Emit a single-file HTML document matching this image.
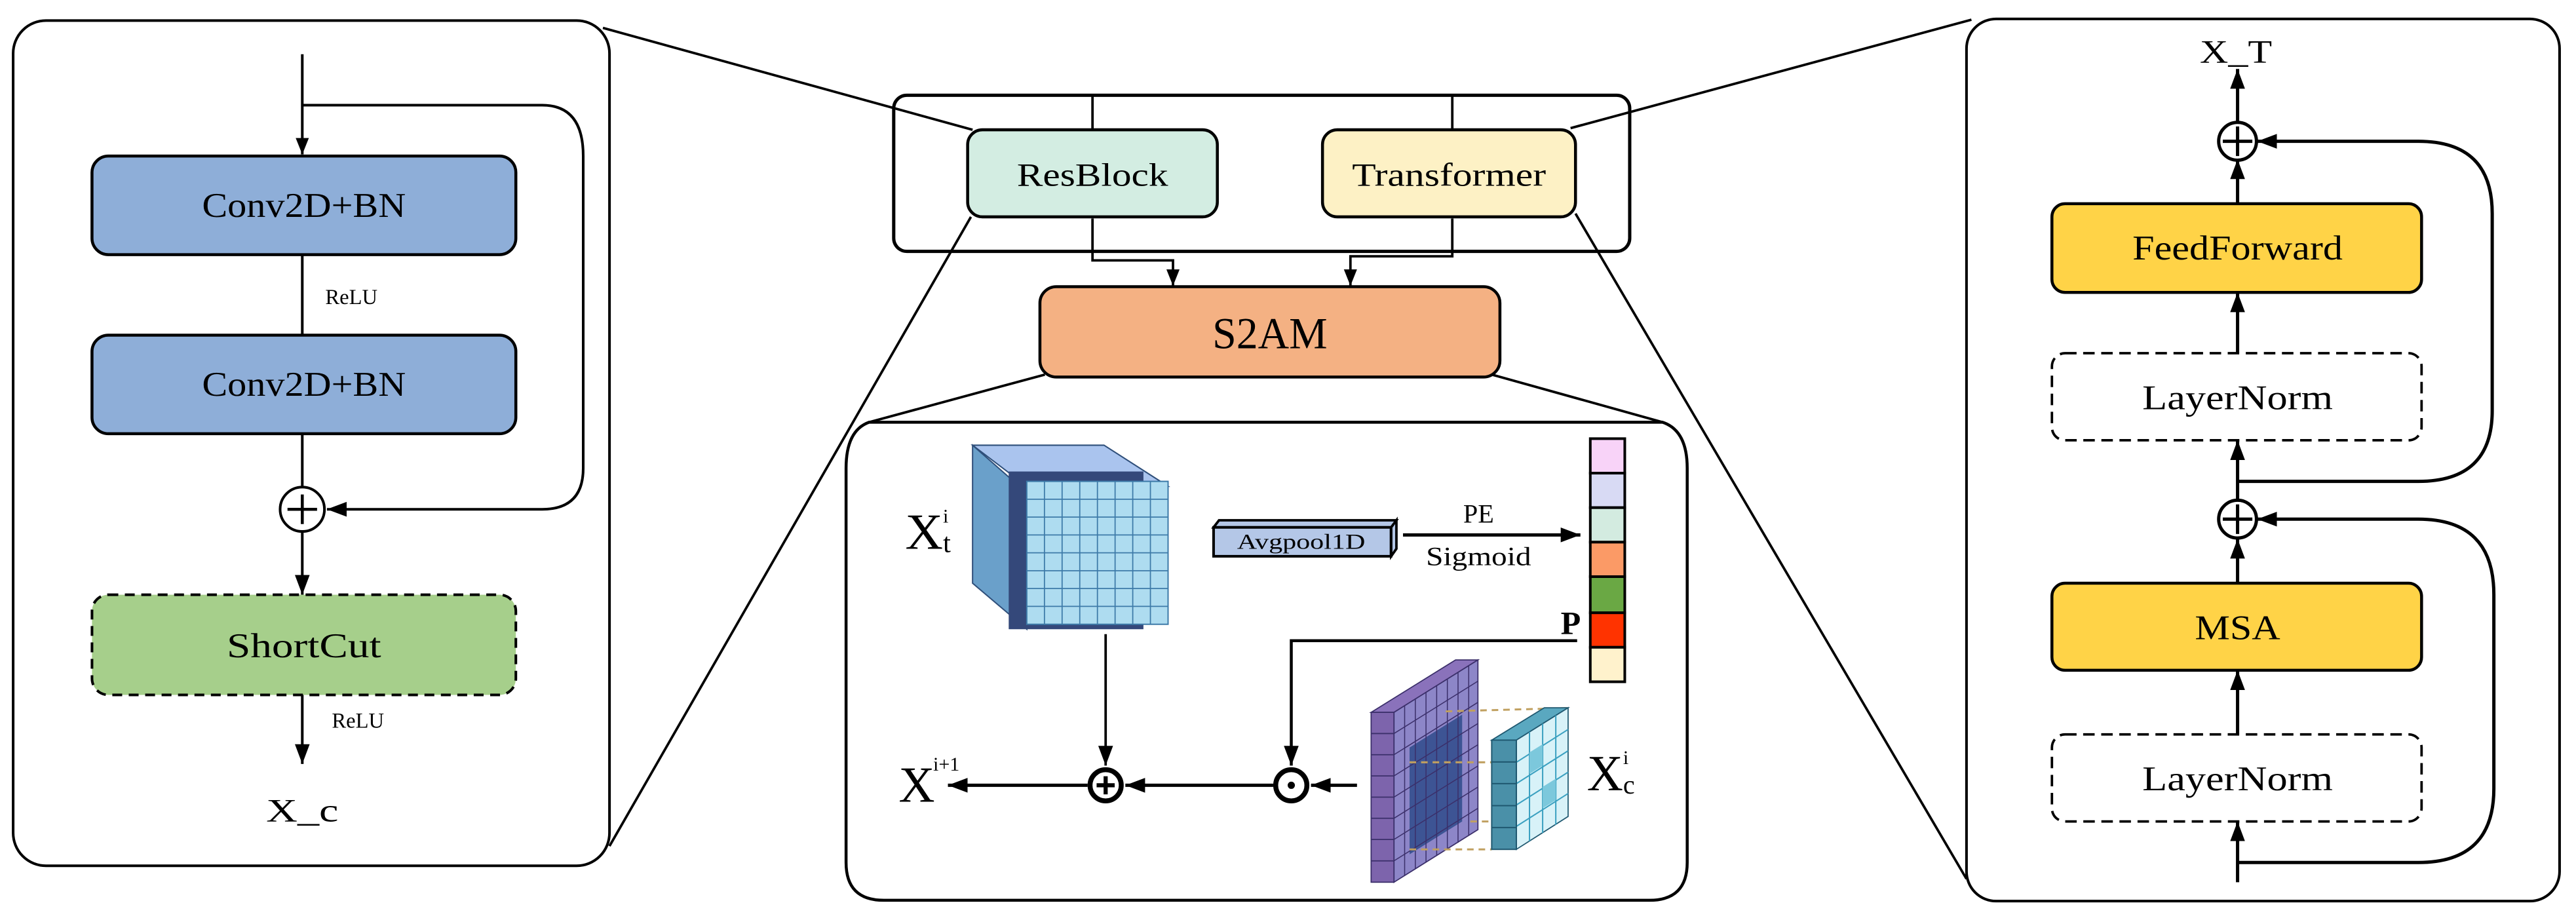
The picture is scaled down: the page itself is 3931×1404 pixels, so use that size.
<!DOCTYPE html>
<html><head><meta charset="utf-8"><style>
html,body{margin:0;padding:0;background:#fff;}
svg{display:block;}
text{font-family:"Liberation Serif",serif;fill:#000;}
</style></head><body>
<svg width="3931" height="1404" viewBox="0 0 1568 560" preserveAspectRatio="none" xmlns="http://www.w3.org/2000/svg">
<defs>
<marker id="ah" markerUnits="userSpaceOnUse" markerWidth="12" markerHeight="12" viewBox="0 0 12 12" refX="12" refY="6" orient="auto">
<path d="M0,1.5 L12,6 L0,10.5 Z" fill="#000"/></marker>
<marker id="ah2" markerUnits="userSpaceOnUse" markerWidth="10" markerHeight="10" viewBox="0 0 10 10" refX="10" refY="5" orient="auto">
<path d="M0,1 L10,5 L0,9 Z" fill="#000"/></marker>
</defs>

<!-- connectors between panels -->
<g stroke="#000" stroke-width="1.5" fill="none">
<line x1="367" y1="17" x2="592" y2="79"/>
<line x1="591" y1="132" x2="371" y2="515"/>
<line x1="956" y1="78" x2="1200" y2="12"/>
<line x1="959" y1="130" x2="1197" y2="535"/>
<line x1="636" y1="228" x2="529" y2="257"/>
<line x1="908" y1="228" x2="1012" y2="257"/>
</g>

<!-- LEFT PANEL -->
<rect x="8" y="12.5" width="363" height="514.5" rx="20" fill="none" stroke="#000" stroke-width="1.6"/>
<g stroke="#000" stroke-width="1.6" fill="none">
<line x1="184" y1="33" x2="184" y2="94" marker-end="url(#ah2)"/>
<path d="M184,64 L330,64 Q355,64 355,95 L355,285 Q355,310 330,310 L199,310" marker-end="url(#ah)"/>
<line x1="184" y1="155" x2="184" y2="204"/>
<line x1="184" y1="264" x2="184" y2="296"/>
<line x1="184" y1="324" x2="184" y2="362" marker-end="url(#ah)"/>
<line x1="184" y1="423" x2="184" y2="465" marker-end="url(#ah)"/>
</g>
<rect x="56" y="95" width="258" height="60" rx="10" fill="#8eaed8" stroke="#000" stroke-width="1.8"/>
<text x="185" y="132" font-size="21" text-anchor="middle" textLength="124" lengthAdjust="spacingAndGlyphs">Conv2D+BN</text>
<text x="198" y="185" font-size="13">ReLU</text>
<rect x="56" y="204" width="258" height="60" rx="10" fill="#8eaed8" stroke="#000" stroke-width="1.8"/>
<text x="185" y="241" font-size="21" text-anchor="middle" textLength="124" lengthAdjust="spacingAndGlyphs">Conv2D+BN</text>
<circle cx="184" cy="310" r="13.5" fill="#fff" stroke="#000" stroke-width="1.6"/>
<path d="M175,310 H193 M184,301 V319" stroke="#000" stroke-width="1.8"/>
<rect x="56" y="362" width="258" height="61" rx="10" fill="#a6cf8b" stroke="#000" stroke-width="1.6" stroke-dasharray="6,4"/>
<text x="185" y="400" font-size="21" text-anchor="middle" textLength="94" lengthAdjust="spacingAndGlyphs">ShortCut</text>
<text x="202" y="443" font-size="13">ReLU</text>
<text x="184" y="500" font-size="20" text-anchor="middle" textLength="44" lengthAdjust="spacingAndGlyphs">X_c</text>

<!-- MIDDLE TOP -->
<rect x="544" y="58" width="448" height="95" rx="8" fill="none" stroke="#000" stroke-width="2"/>
<g stroke="#000" stroke-width="1.5" fill="none">
<line x1="665" y1="58" x2="665" y2="79"/>
<line x1="884" y1="58" x2="884" y2="79"/>
<path d="M665,133 V158.5 H714 V174" marker-end="url(#ah2)"/>
<path d="M884,133 V156 H822 V174" marker-end="url(#ah2)"/>
</g>
<rect x="589" y="79" width="152" height="53" rx="9" fill="#d3ede2" stroke="#000" stroke-width="1.8"/>
<text x="665" y="113" font-size="20" text-anchor="middle" textLength="92" lengthAdjust="spacingAndGlyphs">ResBlock</text>
<rect x="805" y="79" width="154" height="53" rx="9" fill="#fdf1c5" stroke="#000" stroke-width="1.8"/>
<text x="882" y="113" font-size="20" text-anchor="middle" textLength="118" lengthAdjust="spacingAndGlyphs">Transformer</text>
<rect x="633" y="174.5" width="280" height="55" rx="10" fill="#f4b183" stroke="#000" stroke-width="1.8"/>
<text x="773" y="212" font-size="27" text-anchor="middle" textLength="70" lengthAdjust="spacingAndGlyphs">S2AM</text>

<!-- MIDDLE BOTTOM PANEL -->
<path d="M529,257 L1012,257 Q1027,262 1027,285 L1027,525 Q1027,548 1004,548 L538,548 Q515,548 515,525 L515,285 Q515,262 529,257 Z" fill="none" stroke="#000" stroke-width="1.8"/>

<!-- Xt cube -->
<polygon points="592,271 672,271 711,296 625,296" fill="#aac4ee" stroke="#2f4f7a" stroke-width="0.8"/>
<polygon points="592,271 625,300 625,383 592,355" fill="#6aa0ca" stroke="#2f4f7a" stroke-width="0.8"/>
<rect x="614" y="287" width="82" height="96" fill="#34487a"/>
<rect x="625" y="293" width="86" height="87" fill="#aedcf0" stroke="#3d7aa8" stroke-width="0.8"/>
<g stroke="#3d7aa8" stroke-width="0.7">
<line x1="635.75" y1="293" x2="635.75" y2="380"/><line x1="646.5" y1="293" x2="646.5" y2="380"/><line x1="657.25" y1="293" x2="657.25" y2="380"/><line x1="668" y1="293" x2="668" y2="380"/><line x1="678.75" y1="293" x2="678.75" y2="380"/><line x1="689.5" y1="293" x2="689.5" y2="380"/><line x1="700.25" y1="293" x2="700.25" y2="380"/>
<line x1="625" y1="303.9" x2="711" y2="303.9"/><line x1="625" y1="314.75" x2="711" y2="314.75"/><line x1="625" y1="325.6" x2="711" y2="325.6"/><line x1="625" y1="336.5" x2="711" y2="336.5"/><line x1="625" y1="347.4" x2="711" y2="347.4"/><line x1="625" y1="358.25" x2="711" y2="358.25"/><line x1="625" y1="369.1" x2="711" y2="369.1"/>
</g>
<text x="551" y="334" font-size="31" textLength="23" lengthAdjust="spacingAndGlyphs">X</text>
<text x="574" y="336" font-size="17">t</text>
<text x="574" y="318" font-size="12">i</text>

<!-- Avgpool -->
<polygon points="738.7,321 742,316.7 850,316.7 846.8,321" fill="#b4c7e7" stroke="#000" stroke-width="1.5"/>
<polygon points="846.8,321 850,316.7 850,334 846.8,338.6" fill="#b4c7e7" stroke="#000" stroke-width="1.5"/>
<rect x="738.7" y="321" width="108" height="17.6" fill="#b4c7e7" stroke="#000" stroke-width="1.6"/>
<text x="792" y="334" font-size="13" text-anchor="middle" textLength="78" lengthAdjust="spacingAndGlyphs">Avgpool1D</text>
<line x1="854" y1="325.6" x2="962" y2="325.6" stroke="#000" stroke-width="2" marker-end="url(#ah)"/>
<text x="900" y="318" font-size="16" text-anchor="middle">PE</text>
<text x="900" y="344" font-size="16" text-anchor="middle" textLength="64" lengthAdjust="spacingAndGlyphs">Sigmoid</text>

<!-- color bar -->
<g stroke="#000" stroke-width="1.6">
<rect x="968" y="267" width="21" height="21" fill="#f8d3f8"/>
<rect x="968" y="288" width="21" height="21" fill="#d8daf4"/>
<rect x="968" y="309" width="21" height="21" fill="#d3ebe0"/>
<rect x="968" y="330" width="21" height="21" fill="#fb9a66"/>
<rect x="968" y="351" width="21" height="22" fill="#6aa844"/>
<rect x="968" y="373" width="21" height="21" fill="#ff3300"/>
<rect x="968" y="394" width="21" height="21" fill="#fff2cc"/>
</g>
<text x="950" y="386" font-size="20" font-weight="bold">P</text>

<!-- P line to odot -->
<path d="M960,390 H786 V466" fill="none" stroke="#000" stroke-width="1.8" marker-end="url(#ah)"/>
<line x1="673" y1="386" x2="673" y2="466" stroke="#000" stroke-width="1.5" marker-end="url(#ah)"/>
<line x1="826" y1="478" x2="798" y2="478" stroke="#000" stroke-width="2" marker-end="url(#ah)"/>
<line x1="775" y1="478" x2="685" y2="478" stroke="#000" stroke-width="2" marker-end="url(#ah)"/>
<line x1="662" y1="478" x2="577" y2="478" stroke="#000" stroke-width="2" marker-end="url(#ah)"/>
<circle cx="786" cy="478" r="9.5" fill="#fff" stroke="#000" stroke-width="3"/>
<circle cx="786" cy="478" r="2.2" fill="#000"/>
<circle cx="673" cy="478" r="9.5" fill="#fff" stroke="#000" stroke-width="3"/>
<path d="M667.5,478 H678.5 M673,472.5 V483.5" stroke="#000" stroke-width="2.5"/>
<text x="547" y="488" font-size="31" textLength="22" lengthAdjust="spacingAndGlyphs">X</text>
<text x="568" y="469" font-size="12">i+1</text>

<!-- Xc stacks -->
<polygon points="834.6,433.6 886,401.7 899.6,401.7 848.5,433.6" fill="#8a72bb" stroke="#3b2f6a" stroke-width="0.7"/>
<polygon points="848.5,433.6 899.6,401.7 899.6,505 848.5,537" fill="#8d86c8" stroke="#3b2f6a" stroke-width="0.7"/>
<polygon points="858,455 890,435 890,500 858,520" fill="#3d5494"/>
<g stroke="#3b2f6a" stroke-width="0.6">
<line x1="855" y1="429.6" x2="855" y2="533"/><line x1="861.5" y1="425.5" x2="861.5" y2="529"/><line x1="868" y1="421.5" x2="868" y2="525"/><line x1="874.5" y1="417.4" x2="874.5" y2="521"/><line x1="881" y1="413.4" x2="881" y2="517"/><line x1="887.5" y1="409.3" x2="887.5" y2="513"/><line x1="894" y1="405.2" x2="894" y2="508.5"/>
<line x1="848.5" y1="446.5" x2="899.6" y2="414.6"/><line x1="848.5" y1="459.4" x2="899.6" y2="427.5"/><line x1="848.5" y1="472.3" x2="899.6" y2="440.4"/><line x1="848.5" y1="485.2" x2="899.6" y2="453.3"/><line x1="848.5" y1="498.1" x2="899.6" y2="466.2"/><line x1="848.5" y1="511" x2="899.6" y2="479.1"/><line x1="848.5" y1="524" x2="899.6" y2="492"/>
</g>
<rect x="834.6" y="433.6" width="13.9" height="103.4" fill="#7d64ac" stroke="#3b2f6a" stroke-width="0.7"/>
<g stroke="#3b2f6a" stroke-width="0.7"><line x1="834.6" y1="446.5" x2="848.5" y2="446.5"/><line x1="834.6" y1="459.4" x2="848.5" y2="459.4"/><line x1="834.6" y1="472.3" x2="848.5" y2="472.3"/><line x1="834.6" y1="485.2" x2="848.5" y2="485.2"/><line x1="834.6" y1="498.1" x2="848.5" y2="498.1"/><line x1="834.6" y1="511" x2="848.5" y2="511"/><line x1="834.6" y1="524" x2="848.5" y2="524"/></g>
<g stroke="#c0a060" stroke-width="1.2" stroke-dasharray="4,3" fill="none">
<line x1="880" y1="433" x2="955" y2="431"/><line x1="858" y1="464" x2="908" y2="464"/><line x1="858" y1="517" x2="908" y2="517"/><line x1="895" y1="500" x2="908" y2="500"/>
</g>
<polygon points="908,450.5 923,450.5 954.5,430.8 940,430.8" fill="#5aa8c0" stroke="#1f5870" stroke-width="0.7"/>
<polygon points="923,450.5 954.5,430.8 954.5,497 923,517" fill="#d8f2f8" stroke="#1f5870" stroke-width="0.7"/>
<g stroke="#3aa0c0" stroke-width="0.8">
<line x1="931" y1="445.5" x2="931" y2="512"/><line x1="939" y1="440.5" x2="939" y2="507"/><line x1="947" y1="435.5" x2="947" y2="502"/>
<line x1="923" y1="464" x2="954.5" y2="444"/><line x1="923" y1="477" x2="954.5" y2="457"/><line x1="923" y1="490" x2="954.5" y2="470"/><line x1="923" y1="503" x2="954.5" y2="483"/>
</g>
<polygon points="931,458 939,453 939,466 931,471" fill="#7cc8dc"/>
<polygon points="939,479 947,474 947,487 939,492" fill="#7cc8dc"/>
<rect x="908" y="450.5" width="15" height="66.5" fill="#4a90a8" stroke="#1f5870" stroke-width="0.8"/>
<g stroke="#1f5870" stroke-width="0.8"><line x1="908" y1="463.8" x2="923" y2="463.8"/><line x1="908" y1="477" x2="923" y2="477"/><line x1="908" y1="490.4" x2="923" y2="490.4"/><line x1="908" y1="503.7" x2="923" y2="503.7"/></g>
<text x="966" y="481" font-size="31" textLength="22" lengthAdjust="spacingAndGlyphs">X</text>
<text x="988" y="483" font-size="16">c</text>
<text x="988" y="465" font-size="12">i</text>

<!-- RIGHT PANEL -->
<rect x="1197" y="11.5" width="361" height="537" rx="18" fill="none" stroke="#000" stroke-width="1.6"/>
<text x="1361" y="38" font-size="20" text-anchor="middle" textLength="44" lengthAdjust="spacingAndGlyphs">X_T</text>
<g stroke="#000" stroke-width="2" fill="none">
<line x1="1362" y1="537" x2="1362" y2="500" marker-end="url(#ah)"/>
<line x1="1362" y1="447" x2="1362" y2="408" marker-end="url(#ah)"/>
<line x1="1362" y1="355" x2="1362" y2="328" marker-end="url(#ah)"/>
<line x1="1362" y1="304" x2="1362" y2="268" marker-end="url(#ah)"/>
<line x1="1362" y1="215" x2="1362" y2="178" marker-end="url(#ah)"/>
<line x1="1362" y1="124" x2="1362" y2="97" marker-end="url(#ah)"/>
<line x1="1362" y1="74" x2="1362" y2="42" marker-end="url(#ah)"/>
<path d="M1362,525 H1472 Q1518,525 1518,480 V362 Q1518,316 1472,316 H1374" marker-end="url(#ah)"/>
<path d="M1362,293 H1472 Q1517,293 1517,250 V130 Q1517,86 1472,86 H1374" marker-end="url(#ah)"/>
</g>
<circle cx="1362" cy="86" r="11.5" fill="#fff" stroke="#000" stroke-width="2"/>
<path d="M1353,86 H1371 M1362,77 V95" stroke="#000" stroke-width="2"/>
<circle cx="1362" cy="316" r="11.5" fill="#fff" stroke="#000" stroke-width="2"/>
<path d="M1353,316 H1371 M1362,307 V325" stroke="#000" stroke-width="2"/>
<rect x="1249" y="124" width="225" height="54" rx="8" fill="#ffd347" stroke="#000" stroke-width="1.8"/>
<text x="1362" y="158" font-size="21" text-anchor="middle" textLength="128" lengthAdjust="spacingAndGlyphs">FeedForward</text>
<rect x="1249" y="215" width="225" height="53" rx="8" fill="#fff" stroke="#000" stroke-width="1.5" stroke-dasharray="7,4"/>
<text x="1362" y="249" font-size="21" text-anchor="middle" textLength="116" lengthAdjust="spacingAndGlyphs">LayerNorm</text>
<rect x="1249" y="355" width="225" height="53" rx="8" fill="#ffd347" stroke="#000" stroke-width="1.8"/>
<text x="1362" y="389" font-size="21" text-anchor="middle" textLength="52" lengthAdjust="spacingAndGlyphs">MSA</text>
<rect x="1249" y="447" width="225" height="53" rx="8" fill="#fff" stroke="#000" stroke-width="1.5" stroke-dasharray="7,4"/>
<text x="1362" y="481" font-size="21" text-anchor="middle" textLength="116" lengthAdjust="spacingAndGlyphs">LayerNorm</text>
</svg>
</body></html>
